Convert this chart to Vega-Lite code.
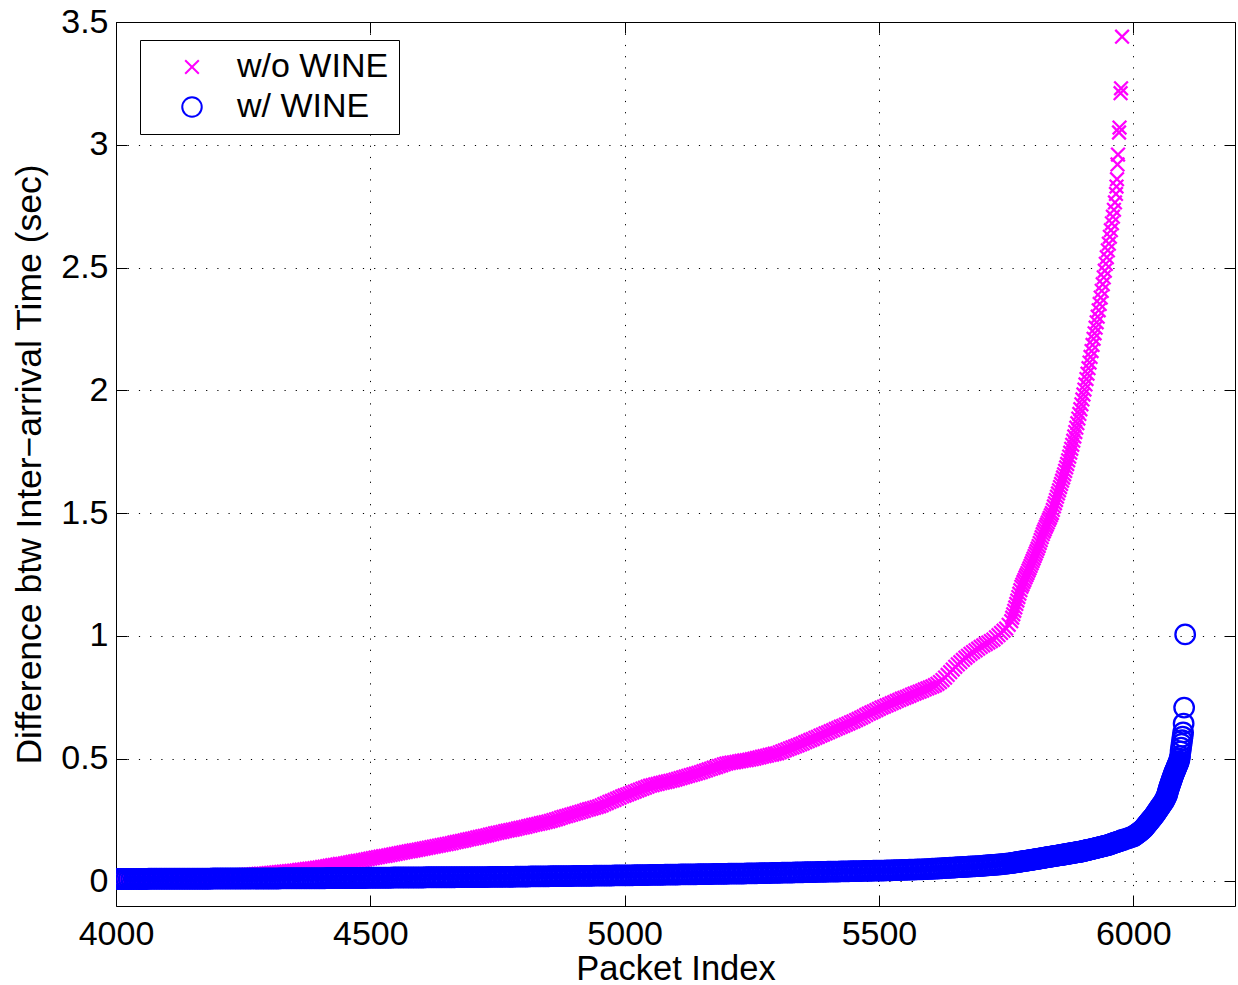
{
"$schema": "https://vega.github.io/schema/vega-lite/v6.json",
"width": 1119, "height": 884,
"autosize": "none",
"padding": {"left": 116, "top": 22, "right": 3, "bottom": 79},
"background": "white",
"config": {
  "view": {"stroke": "#000", "strokeWidth": 1},
  "axis": {"domain": false, "tickColor": "#000", "tickWidth": 1, "tickSize": -11, "labelFont": "Liberation Sans", "labelFontSize": 34, "labelColor": "#000", "titleFont": "Liberation Sans", "titleFontSize": 35, "titleFontWeight": "normal", "titleColor": "#000", "gridColor": "#000", "gridDash": [1.2, 10], "gridOpacity": 1, "gridWidth": 1, "labelFlush": false, "labelOverlap": false},
  "legend": {"orient": "none", "legendX": 24, "legendY": 18, "strokeColor": "#000", "fillColor": "#fff", "padding": 10, "cornerRadius": 0, "labelFont": "Liberation Sans", "labelFontSize": 34, "labelColor": "#000", "symbolSize": 380, "symbolStrokeWidth": 2, "symbolOffset": 25, "labelOffset": 28, "rowPadding": 6}
},
"data": {"values": [
{"i":4000,"a":0.010,"b":0.010},{"i":4005,"a":0.010,"b":0.010},{"i":4010,"a":0.010,"b":0.010},{"i":4015,"a":0.011,"b":0.010},{"i":4020,"a":0.011,"b":0.010},{"i":4025,"a":0.011,"b":0.010},{"i":4030,"a":0.011,"b":0.010},{"i":4035,"a":0.011,"b":0.010},{"i":4040,"a":0.012,"b":0.010},{"i":4045,"a":0.012,"b":0.010},{"i":4050,"a":0.012,"b":0.010},{"i":4055,"a":0.012,"b":0.010},{"i":4060,"a":0.012,"b":0.010},{"i":4065,"a":0.013,"b":0.011},{"i":4070,"a":0.013,"b":0.011},{"i":4075,"a":0.013,"b":0.011},{"i":4080,"a":0.013,"b":0.011},{"i":4085,"a":0.013,"b":0.011},{"i":4090,"a":0.014,"b":0.011},{"i":4095,"a":0.014,"b":0.011},
{"i":4100,"a":0.014,"b":0.011},{"i":4105,"a":0.014,"b":0.011},{"i":4110,"a":0.015,"b":0.011},{"i":4115,"a":0.015,"b":0.011},{"i":4120,"a":0.015,"b":0.011},{"i":4125,"a":0.015,"b":0.011},{"i":4130,"a":0.016,"b":0.011},{"i":4135,"a":0.016,"b":0.011},{"i":4140,"a":0.016,"b":0.011},{"i":4145,"a":0.017,"b":0.011},{"i":4150,"a":0.017,"b":0.011},{"i":4155,"a":0.017,"b":0.011},{"i":4160,"a":0.018,"b":0.011},{"i":4165,"a":0.018,"b":0.011},{"i":4170,"a":0.018,"b":0.011},{"i":4175,"a":0.019,"b":0.011},{"i":4180,"a":0.019,"b":0.011},{"i":4185,"a":0.019,"b":0.011},{"i":4190,"a":0.020,"b":0.012},{"i":4195,"a":0.020,"b":0.012},
{"i":4200,"a":0.020,"b":0.012},{"i":4205,"a":0.021,"b":0.012},{"i":4210,"a":0.021,"b":0.012},{"i":4215,"a":0.022,"b":0.012},{"i":4220,"a":0.022,"b":0.012},{"i":4225,"a":0.023,"b":0.012},{"i":4230,"a":0.024,"b":0.012},{"i":4235,"a":0.024,"b":0.012},{"i":4240,"a":0.025,"b":0.012},{"i":4245,"a":0.025,"b":0.012},{"i":4250,"a":0.026,"b":0.012},{"i":4255,"a":0.027,"b":0.012},{"i":4260,"a":0.028,"b":0.012},{"i":4265,"a":0.028,"b":0.012},{"i":4270,"a":0.029,"b":0.012},{"i":4275,"a":0.030,"b":0.012},{"i":4280,"a":0.031,"b":0.012},{"i":4285,"a":0.032,"b":0.012},{"i":4290,"a":0.032,"b":0.012},{"i":4295,"a":0.033,"b":0.012},
{"i":4300,"a":0.034,"b":0.012},{"i":4305,"a":0.035,"b":0.012},{"i":4310,"a":0.036,"b":0.012},{"i":4315,"a":0.037,"b":0.012},{"i":4320,"a":0.038,"b":0.012},{"i":4325,"a":0.039,"b":0.013},{"i":4330,"a":0.040,"b":0.013},{"i":4335,"a":0.041,"b":0.013},{"i":4340,"a":0.042,"b":0.013},{"i":4345,"a":0.043,"b":0.013},{"i":4350,"a":0.044,"b":0.013},{"i":4355,"a":0.045,"b":0.013},{"i":4360,"a":0.047,"b":0.013},{"i":4365,"a":0.048,"b":0.013},{"i":4370,"a":0.049,"b":0.013},{"i":4375,"a":0.051,"b":0.013},{"i":4380,"a":0.052,"b":0.013},{"i":4385,"a":0.053,"b":0.013},{"i":4390,"a":0.054,"b":0.013},{"i":4395,"a":0.056,"b":0.013},
{"i":4400,"a":0.057,"b":0.013},{"i":4405,"a":0.059,"b":0.013},{"i":4410,"a":0.060,"b":0.013},{"i":4415,"a":0.062,"b":0.014},{"i":4420,"a":0.064,"b":0.014},{"i":4425,"a":0.066,"b":0.014},{"i":4430,"a":0.067,"b":0.014},{"i":4435,"a":0.069,"b":0.014},{"i":4440,"a":0.071,"b":0.014},{"i":4445,"a":0.072,"b":0.014},{"i":4450,"a":0.074,"b":0.014},{"i":4455,"a":0.076,"b":0.014},{"i":4460,"a":0.078,"b":0.014},{"i":4465,"a":0.080,"b":0.014},{"i":4470,"a":0.082,"b":0.014},{"i":4475,"a":0.084,"b":0.014},{"i":4480,"a":0.085,"b":0.014},{"i":4485,"a":0.087,"b":0.014},{"i":4490,"a":0.089,"b":0.014},{"i":4495,"a":0.091,"b":0.015},
{"i":4500,"a":0.093,"b":0.015},{"i":4505,"a":0.095,"b":0.015},{"i":4510,"a":0.097,"b":0.015},{"i":4515,"a":0.099,"b":0.015},{"i":4520,"a":0.101,"b":0.015},{"i":4525,"a":0.103,"b":0.015},{"i":4530,"a":0.104,"b":0.015},{"i":4535,"a":0.106,"b":0.015},{"i":4540,"a":0.108,"b":0.015},{"i":4545,"a":0.110,"b":0.016},{"i":4550,"a":0.112,"b":0.016},{"i":4555,"a":0.114,"b":0.016},{"i":4560,"a":0.116,"b":0.016},{"i":4565,"a":0.118,"b":0.016},{"i":4570,"a":0.120,"b":0.016},{"i":4575,"a":0.122,"b":0.016},{"i":4580,"a":0.124,"b":0.016},{"i":4585,"a":0.126,"b":0.016},{"i":4590,"a":0.128,"b":0.016},{"i":4595,"a":0.130,"b":0.016},
{"i":4600,"a":0.132,"b":0.016},{"i":4605,"a":0.134,"b":0.016},{"i":4610,"a":0.136,"b":0.017},{"i":4615,"a":0.138,"b":0.017},{"i":4620,"a":0.140,"b":0.017},{"i":4625,"a":0.142,"b":0.017},{"i":4630,"a":0.144,"b":0.017},{"i":4635,"a":0.146,"b":0.017},{"i":4640,"a":0.148,"b":0.017},{"i":4645,"a":0.150,"b":0.017},{"i":4650,"a":0.152,"b":0.017},{"i":4655,"a":0.154,"b":0.017},{"i":4660,"a":0.156,"b":0.017},{"i":4665,"a":0.159,"b":0.017},{"i":4670,"a":0.161,"b":0.018},{"i":4675,"a":0.163,"b":0.018},{"i":4680,"a":0.165,"b":0.018},{"i":4685,"a":0.167,"b":0.018},{"i":4690,"a":0.170,"b":0.018},{"i":4695,"a":0.172,"b":0.018},
{"i":4700,"a":0.174,"b":0.018},{"i":4705,"a":0.176,"b":0.018},{"i":4710,"a":0.179,"b":0.018},{"i":4715,"a":0.181,"b":0.018},{"i":4720,"a":0.184,"b":0.018},{"i":4725,"a":0.186,"b":0.018},{"i":4730,"a":0.188,"b":0.018},{"i":4735,"a":0.191,"b":0.019},{"i":4740,"a":0.193,"b":0.019},{"i":4745,"a":0.196,"b":0.019},{"i":4750,"a":0.198,"b":0.019},{"i":4755,"a":0.200,"b":0.019},{"i":4760,"a":0.202,"b":0.019},{"i":4765,"a":0.205,"b":0.019},{"i":4770,"a":0.207,"b":0.019},{"i":4775,"a":0.209,"b":0.019},{"i":4780,"a":0.211,"b":0.019},{"i":4785,"a":0.213,"b":0.020},{"i":4790,"a":0.216,"b":0.020},{"i":4795,"a":0.218,"b":0.020},
{"i":4800,"a":0.220,"b":0.020},{"i":4805,"a":0.222,"b":0.020},{"i":4810,"a":0.225,"b":0.020},{"i":4815,"a":0.227,"b":0.021},{"i":4820,"a":0.230,"b":0.021},{"i":4825,"a":0.232,"b":0.021},{"i":4830,"a":0.234,"b":0.021},{"i":4835,"a":0.237,"b":0.021},{"i":4840,"a":0.239,"b":0.021},{"i":4845,"a":0.242,"b":0.021},{"i":4850,"a":0.244,"b":0.021},{"i":4855,"a":0.247,"b":0.022},{"i":4860,"a":0.250,"b":0.022},{"i":4865,"a":0.253,"b":0.022},{"i":4870,"a":0.256,"b":0.022},{"i":4875,"a":0.260,"b":0.022},{"i":4880,"a":0.263,"b":0.022},{"i":4885,"a":0.266,"b":0.022},{"i":4890,"a":0.269,"b":0.022},{"i":4895,"a":0.272,"b":0.022},
{"i":4900,"a":0.275,"b":0.023},{"i":4905,"a":0.278,"b":0.023},{"i":4910,"a":0.281,"b":0.023},{"i":4915,"a":0.284,"b":0.023},{"i":4920,"a":0.287,"b":0.023},{"i":4925,"a":0.291,"b":0.023},{"i":4930,"a":0.294,"b":0.023},{"i":4935,"a":0.297,"b":0.023},{"i":4940,"a":0.300,"b":0.024},{"i":4945,"a":0.303,"b":0.024},{"i":4950,"a":0.306,"b":0.024},{"i":4955,"a":0.310,"b":0.024},{"i":4960,"a":0.315,"b":0.024},{"i":4965,"a":0.319,"b":0.024},{"i":4970,"a":0.324,"b":0.024},{"i":4975,"a":0.328,"b":0.024},{"i":4980,"a":0.332,"b":0.025},{"i":4985,"a":0.337,"b":0.025},{"i":4990,"a":0.341,"b":0.025},{"i":4995,"a":0.346,"b":0.025},
{"i":5000,"a":0.350,"b":0.025},{"i":5005,"a":0.354,"b":0.025},{"i":5010,"a":0.358,"b":0.025},{"i":5015,"a":0.362,"b":0.025},{"i":5020,"a":0.366,"b":0.026},{"i":5025,"a":0.370,"b":0.026},{"i":5030,"a":0.374,"b":0.026},{"i":5035,"a":0.378,"b":0.026},{"i":5040,"a":0.382,"b":0.026},{"i":5045,"a":0.386,"b":0.026},{"i":5050,"a":0.390,"b":0.027},{"i":5055,"a":0.392,"b":0.027},{"i":5060,"a":0.395,"b":0.027},{"i":5065,"a":0.397,"b":0.027},{"i":5070,"a":0.400,"b":0.027},{"i":5075,"a":0.402,"b":0.027},{"i":5080,"a":0.405,"b":0.028},{"i":5085,"a":0.407,"b":0.028},{"i":5090,"a":0.410,"b":0.028},{"i":5095,"a":0.412,"b":0.028},
{"i":5100,"a":0.415,"b":0.028},{"i":5105,"a":0.418,"b":0.028},{"i":5110,"a":0.421,"b":0.029},{"i":5115,"a":0.424,"b":0.029},{"i":5120,"a":0.427,"b":0.029},{"i":5125,"a":0.430,"b":0.029},{"i":5130,"a":0.433,"b":0.029},{"i":5135,"a":0.436,"b":0.029},{"i":5140,"a":0.439,"b":0.029},{"i":5145,"a":0.442,"b":0.030},{"i":5150,"a":0.445,"b":0.030},{"i":5155,"a":0.449,"b":0.030},{"i":5160,"a":0.452,"b":0.030},{"i":5165,"a":0.456,"b":0.030},{"i":5170,"a":0.459,"b":0.030},{"i":5175,"a":0.463,"b":0.031},{"i":5180,"a":0.466,"b":0.031},{"i":5185,"a":0.470,"b":0.031},{"i":5190,"a":0.473,"b":0.031},{"i":5195,"a":0.477,"b":0.031},
{"i":5200,"a":0.480,"b":0.031},{"i":5205,"a":0.482,"b":0.032},{"i":5210,"a":0.484,"b":0.032},{"i":5215,"a":0.485,"b":0.032},{"i":5220,"a":0.487,"b":0.032},{"i":5225,"a":0.489,"b":0.032},{"i":5230,"a":0.491,"b":0.032},{"i":5235,"a":0.493,"b":0.032},{"i":5240,"a":0.494,"b":0.033},{"i":5245,"a":0.496,"b":0.033},{"i":5250,"a":0.498,"b":0.033},{"i":5255,"a":0.500,"b":0.033},{"i":5260,"a":0.503,"b":0.033},{"i":5265,"a":0.505,"b":0.034},{"i":5270,"a":0.508,"b":0.034},{"i":5275,"a":0.510,"b":0.034},{"i":5280,"a":0.512,"b":0.034},{"i":5285,"a":0.515,"b":0.034},{"i":5290,"a":0.517,"b":0.035},{"i":5295,"a":0.520,"b":0.035},
{"i":5300,"a":0.522,"b":0.035},{"i":5305,"a":0.526,"b":0.035},{"i":5310,"a":0.530,"b":0.036},{"i":5315,"a":0.534,"b":0.036},{"i":5320,"a":0.538,"b":0.036},{"i":5325,"a":0.542,"b":0.036},{"i":5330,"a":0.546,"b":0.036},{"i":5335,"a":0.550,"b":0.037},{"i":5340,"a":0.554,"b":0.037},{"i":5345,"a":0.558,"b":0.037},{"i":5350,"a":0.562,"b":0.037},{"i":5355,"a":0.567,"b":0.038},{"i":5360,"a":0.571,"b":0.038},{"i":5365,"a":0.576,"b":0.038},{"i":5370,"a":0.580,"b":0.038},{"i":5375,"a":0.585,"b":0.038},{"i":5380,"a":0.589,"b":0.039},{"i":5385,"a":0.594,"b":0.039},{"i":5390,"a":0.598,"b":0.039},{"i":5395,"a":0.603,"b":0.039},
{"i":5400,"a":0.607,"b":0.040},{"i":5405,"a":0.612,"b":0.040},{"i":5410,"a":0.616,"b":0.040},{"i":5415,"a":0.621,"b":0.040},{"i":5420,"a":0.625,"b":0.040},{"i":5425,"a":0.630,"b":0.041},{"i":5430,"a":0.634,"b":0.041},{"i":5435,"a":0.639,"b":0.041},{"i":5440,"a":0.643,"b":0.041},{"i":5445,"a":0.648,"b":0.042},{"i":5450,"a":0.652,"b":0.042},{"i":5455,"a":0.657,"b":0.042},{"i":5460,"a":0.662,"b":0.042},{"i":5465,"a":0.667,"b":0.042},{"i":5470,"a":0.672,"b":0.043},{"i":5475,"a":0.678,"b":0.043},{"i":5480,"a":0.683,"b":0.043},{"i":5485,"a":0.688,"b":0.043},{"i":5490,"a":0.693,"b":0.044},{"i":5495,"a":0.698,"b":0.044},
{"i":5500,"a":0.703,"b":0.044},{"i":5505,"a":0.708,"b":0.044},{"i":5510,"a":0.712,"b":0.044},{"i":5515,"a":0.717,"b":0.045},{"i":5520,"a":0.721,"b":0.045},{"i":5525,"a":0.726,"b":0.045},{"i":5530,"a":0.730,"b":0.046},{"i":5535,"a":0.735,"b":0.046},{"i":5540,"a":0.739,"b":0.046},{"i":5545,"a":0.744,"b":0.047},{"i":5550,"a":0.748,"b":0.047},{"i":5555,"a":0.752,"b":0.047},{"i":5560,"a":0.756,"b":0.048},{"i":5565,"a":0.761,"b":0.048},{"i":5570,"a":0.765,"b":0.048},{"i":5575,"a":0.769,"b":0.049},{"i":5580,"a":0.773,"b":0.049},{"i":5585,"a":0.777,"b":0.049},{"i":5590,"a":0.782,"b":0.050},{"i":5595,"a":0.786,"b":0.050},
{"i":5600,"a":0.790,"b":0.051},{"i":5605,"a":0.794,"b":0.052},{"i":5610,"a":0.799,"b":0.052},{"i":5615,"a":0.805,"b":0.053},{"i":5620,"a":0.812,"b":0.053},{"i":5625,"a":0.820,"b":0.054},{"i":5630,"a":0.830,"b":0.055},{"i":5635,"a":0.841,"b":0.055},{"i":5640,"a":0.852,"b":0.056},{"i":5645,"a":0.863,"b":0.056},{"i":5650,"a":0.874,"b":0.057},{"i":5655,"a":0.884,"b":0.058},{"i":5660,"a":0.893,"b":0.058},{"i":5665,"a":0.902,"b":0.059},{"i":5670,"a":0.911,"b":0.059},{"i":5675,"a":0.919,"b":0.060},{"i":5680,"a":0.927,"b":0.061},{"i":5685,"a":0.934,"b":0.061},{"i":5690,"a":0.941,"b":0.062},{"i":5695,"a":0.948,"b":0.062},
{"i":5700,"a":0.955,"b":0.063},{"i":5705,"a":0.961,"b":0.064},{"i":5710,"a":0.967,"b":0.065},{"i":5715,"a":0.973,"b":0.066},{"i":5720,"a":0.979,"b":0.067},{"i":5725,"a":0.985,"b":0.067},{"i":5730,"a":0.994,"b":0.068},{"i":5735,"a":1.003,"b":0.069},{"i":5740,"a":1.012,"b":0.070},{"i":5745,"a":1.021,"b":0.071},{"i":5750,"a":1.030,"b":0.072},{"i":5755,"a":1.045,"b":0.074},{"i":5760,"a":1.060,"b":0.075},
{"i":5762,"a":1.074,"b":0.076},{"i":5764,"a":1.088,"b":0.076},{"i":5766,"a":1.102,"b":0.077},{"i":5768,"a":1.116,"b":0.078},{"i":5770,"a":1.130,"b":0.078},{"i":5772,"a":1.144,"b":0.079},{"i":5774,"a":1.158,"b":0.080},{"i":5776,"a":1.172,"b":0.080},{"i":5778,"a":1.186,"b":0.081},{"i":5780,"a":1.200,"b":0.082},
{"i":5782,"a":1.209,"b":0.082},{"i":5784,"a":1.219,"b":0.083},{"i":5786,"a":1.228,"b":0.084},{"i":5788,"a":1.238,"b":0.084},{"i":5790,"a":1.247,"b":0.085},{"i":5792,"a":1.256,"b":0.085},{"i":5794,"a":1.266,"b":0.086},{"i":5796,"a":1.275,"b":0.087},{"i":5798,"a":1.285,"b":0.087},{"i":5800,"a":1.295,"b":0.088},
{"i":5802,"a":1.305,"b":0.089},{"i":5804,"a":1.315,"b":0.089},{"i":5806,"a":1.325,"b":0.090},{"i":5808,"a":1.335,"b":0.091},{"i":5810,"a":1.345,"b":0.091},{"i":5812,"a":1.355,"b":0.092},{"i":5814,"a":1.366,"b":0.093},{"i":5816,"a":1.378,"b":0.093},{"i":5818,"a":1.390,"b":0.094},{"i":5820,"a":1.402,"b":0.095},
{"i":5822,"a":1.414,"b":0.095},{"i":5824,"a":1.425,"b":0.096},{"i":5826,"a":1.434,"b":0.097},{"i":5828,"a":1.444,"b":0.098},{"i":5830,"a":1.453,"b":0.098},{"i":5832,"a":1.462,"b":0.099},{"i":5834,"a":1.472,"b":0.100},{"i":5836,"a":1.481,"b":0.100},{"i":5838,"a":1.491,"b":0.101},{"i":5840,"a":1.500,"b":0.102},
{"i":5842,"a":1.513,"b":0.102},{"i":5844,"a":1.527,"b":0.103},{"i":5846,"a":1.540,"b":0.104},{"i":5848,"a":1.553,"b":0.104},{"i":5850,"a":1.567,"b":0.105},{"i":5852,"a":1.580,"b":0.106},{"i":5854,"a":1.593,"b":0.106},{"i":5856,"a":1.606,"b":0.107},{"i":5858,"a":1.619,"b":0.108},{"i":5860,"a":1.632,"b":0.109},
{"i":5862,"a":1.645,"b":0.109},{"i":5864,"a":1.658,"b":0.110},{"i":5866,"a":1.672,"b":0.111},{"i":5868,"a":1.686,"b":0.111},{"i":5870,"a":1.700,"b":0.112},{"i":5872,"a":1.715,"b":0.113},{"i":5874,"a":1.730,"b":0.114},{"i":5876,"a":1.746,"b":0.114},{"i":5878,"a":1.762,"b":0.115},{"i":5880,"a":1.778,"b":0.116},
{"i":5882,"a":1.795,"b":0.116},{"i":5884,"a":1.812,"b":0.117},{"i":5886,"a":1.830,"b":0.118},{"i":5888,"a":1.848,"b":0.119},{"i":5890,"a":1.866,"b":0.119},{"i":5892,"a":1.885,"b":0.120},{"i":5894,"a":1.904,"b":0.121},{"i":5896,"a":1.923,"b":0.121},{"i":5898,"a":1.943,"b":0.122},{"i":5900,"a":1.963,"b":0.123},
{"i":5902,"a":1.983,"b":0.124},{"i":5904,"a":2.003,"b":0.125},{"i":5906,"a":2.024,"b":0.126},{"i":5908,"a":2.046,"b":0.127},{"i":5910,"a":2.068,"b":0.128},{"i":5912,"a":2.090,"b":0.129},{"i":5914,"a":2.113,"b":0.130},{"i":5916,"a":2.136,"b":0.131},{"i":5918,"a":2.160,"b":0.132},{"i":5920,"a":2.185,"b":0.133},
{"i":5922,"a":2.210,"b":0.134},{"i":5924,"a":2.232,"b":0.135},{"i":5926,"a":2.255,"b":0.136},{"i":5928,"a":2.277,"b":0.137},{"i":5930,"a":2.300,"b":0.138},{"i":5932,"a":2.326,"b":0.139},{"i":5934,"a":2.352,"b":0.140},{"i":5936,"a":2.378,"b":0.141},{"i":5938,"a":2.405,"b":0.142},{"i":5940,"a":2.432,"b":0.143},
{"i":5942,"a":2.460,"b":0.144},{"i":5944,"a":2.487,"b":0.145},{"i":5946,"a":2.515,"b":0.146},{"i":5948,"a":2.542,"b":0.147},{"i":5950,"a":2.570,"b":0.148},{"i":5952,"a":2.597,"b":0.149},{"i":5954,"a":2.625,"b":0.151},{"i":5956,"a":2.652,"b":0.152},{"i":5958,"a":2.680,"b":0.154},{"i":5960,"a":2.707,"b":0.155},
{"i":5962,"a":2.735,"b":0.157},{"i":5964,"a":2.765,"b":0.158},{"i":5966,"a":2.800,"b":0.159},{"i":5967,"a":2.830},{"i":5968,"a":2.860,"b":0.161},{"i":5969,"a":2.920},{"i":5970,"a":2.960,"b":0.162},{"i":5972,"a":3.050,"b":0.163},{"i":5973,"a":3.070},{"i":5975,"a":3.210,"b":0.166},{"i":5976,"a":3.230},{"i":5978,"a":3.440,"b":0.169},
{"i":5980,"b":0.169},{"i":5985,"b":0.173},{"i":5990,"b":0.176},{"i":5995,"b":0.180},{"i":6000,"b":0.183},{"i":6002,"b":0.186},{"i":6004,"b":0.189},{"i":6006,"b":0.192},{"i":6008,"b":0.195},{"i":6010,"b":0.198},{"i":6012,"b":0.201},{"i":6014,"b":0.204},{"i":6016,"b":0.208},{"i":6018,"b":0.211},{"i":6020,"b":0.215},{"i":6022,"b":0.220},{"i":6024,"b":0.225},{"i":6026,"b":0.230},{"i":6028,"b":0.235},{"i":6030,"b":0.240},{"i":6032,"b":0.245},{"i":6034,"b":0.250},{"i":6036,"b":0.255},{"i":6038,"b":0.260},{"i":6040,"b":0.265},{"i":6042,"b":0.271},{"i":6044,"b":0.277},{"i":6046,"b":0.283},{"i":6048,"b":0.289},{"i":6050,"b":0.295},{"i":6052,"b":0.301},{"i":6054,"b":0.307},{"i":6056,"b":0.313},{"i":6058,"b":0.319},{"i":6060,"b":0.325},{"i":6062,"b":0.333},{"i":6064,"b":0.341},{"i":6066,"b":0.350},{"i":6067,"b":0.357},{"i":6068,"b":0.365},{"i":6069,"b":0.372},{"i":6070,"b":0.380},{"i":6071,"b":0.386},{"i":6072,"b":0.392},{"i":6073,"b":0.398},{"i":6074,"b":0.404},{"i":6075,"b":0.410},{"i":6076,"b":0.416},{"i":6077,"b":0.422},{"i":6078,"b":0.428},{"i":6079,"b":0.434},{"i":6080,"b":0.440},{"i":6081,"b":0.445},{"i":6082,"b":0.450},{"i":6083,"b":0.455},{"i":6084,"b":0.460},{"i":6085,"b":0.465},{"i":6086,"b":0.470},{"i":6087,"b":0.475},{"i":6088,"b":0.480},{"i":6089,"b":0.485},{"i":6090,"b":0.490},{"i":6091,"b":0.500},{"i":6092,"b":0.510},{"i":6093,"b":0.530},{"i":6094,"b":0.545},{"i":6095,"b":0.560},{"i":6096,"b":0.575},{"i":6097,"b":0.590},{"i":6098,"b":0.607},{"i":6099,"b":0.643},{"i":6100,"b":0.708},{"i":6102,"b":1.006}
]},
"transform": [
  {"fold": ["a", "b"], "as": ["s", "v"]},
  {"filter": "datum.v != null"}
],
"layer": [
  {
    "mark": {"type": "point", "filled": false, "strokeWidth": 2.3, "opacity": 1, "size": 380, "clip": true},
    "encoding": {
      "x": {"field": "i", "type": "quantitative", "scale": {"domain": [4000, 6200], "nice": false, "zero": false},
            "axis": {"orient": "bottom", "values": [4000, 4500, 5000, 5500, 6000], "format": "d", "title": "Packet Index", "titleFontSize": 34.5, "grid": true, "labelPadding": 22, "titleBaseline": "alphabetic", "titleY": 73}},
      "y": {"field": "v", "type": "quantitative", "scale": {"domain": [-0.1, 3.5], "nice": false, "zero": false},
            "axis": {"orient": "left", "values": [0, 0.5, 1, 1.5, 2, 2.5, 3, 3.5], "format": "~g", "title": "Difference btw Inter−arrival Time (sec)", "titleFontSize": 35.5, "grid": true, "labelPadding": 19, "titleBaseline": "alphabetic", "titleX": -76}},
      "color": {"field": "s", "type": "nominal", "scale": {"domain": ["a", "b"], "range": ["#ff00ff", "#0000ff"]},
                "legend": {"title": null, "labelExpr": "datum.value === 'a' ? 'w/o WINE' : 'w/ WINE'"}},
      "shape": {"field": "s", "type": "nominal", "scale": {"domain": ["a", "b"], "range": ["M-0.7,-0.7L0.7,0.7M-0.7,0.7L0.7,-0.7", "circle"]},
                "legend": {"title": null, "labelExpr": "datum.value === 'a' ? 'w/o WINE' : 'w/ WINE'"}},
      "order": {"field": "s", "sort": "ascending"}
    }
  },
  {
    "mark": {"type": "point", "opacity": 0, "size": 1},
    "encoding": {
      "x": {"field": "i", "type": "quantitative", "axis": {"orient": "top", "values": [4000, 4500, 5000, 5500, 6000], "labels": false, "title": null, "grid": false}},
      "y": {"field": "v", "type": "quantitative", "axis": {"orient": "right", "values": [0, 0.5, 1, 1.5, 2, 2.5, 3, 3.5], "labels": false, "title": null, "grid": false}}
    }
  }
],
"resolve": {"axis": {"x": "independent", "y": "independent"}}
}
